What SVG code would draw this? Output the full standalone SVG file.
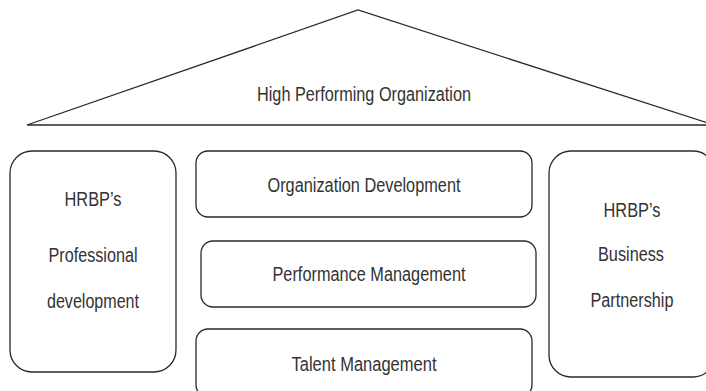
<svg xmlns="http://www.w3.org/2000/svg" width="706" height="391" viewBox="0 0 706 391">
<style>
.s{fill:#fff;stroke:#2a2a2a;stroke-width:1.3}
text{font-family:"Liberation Sans",Arial,sans-serif;font-size:19.5px;fill:#333;text-anchor:middle}
</style>
<rect width="706" height="391" fill="#fff"/>
<g id="roof">
<polygon class="s" points="27,125 358,10 714,125"/>
<text x="364" y="100.5" textLength="214" lengthAdjust="spacingAndGlyphs">High Performing Organization</text>
</g>
<g id="left-pillar">
<rect class="s" x="10" y="151" width="166" height="221" rx="22"/>
<text x="93" y="206" textLength="57" lengthAdjust="spacingAndGlyphs">HRBP’s</text>
<text x="93" y="262" textLength="89" lengthAdjust="spacingAndGlyphs">Professional</text>
<text x="93" y="308" textLength="92" lengthAdjust="spacingAndGlyphs">development</text>
</g>
<g id="org-dev">
<rect class="s" x="196" y="151" width="336" height="66" rx="12"/>
<text x="364" y="192" textLength="193" lengthAdjust="spacingAndGlyphs">Organization Development</text>
</g>
<g id="perf-mgmt">
<rect class="s" x="201" y="241" width="335" height="66" rx="12"/>
<text x="369" y="281" textLength="193" lengthAdjust="spacingAndGlyphs">Performance Management</text>
</g>
<g id="talent-mgmt">
<rect class="s" x="196" y="329" width="336" height="68" rx="12"/>
<text x="364" y="371" textLength="145" lengthAdjust="spacingAndGlyphs">Talent Management</text>
</g>
<g id="right-pillar">
<rect class="s" x="549" y="151" width="166" height="226" rx="22"/>
<text x="632" y="217" textLength="57" lengthAdjust="spacingAndGlyphs">HRBP’s</text>
<text x="631" y="261" textLength="66" lengthAdjust="spacingAndGlyphs">Business</text>
<text x="632" y="307" textLength="83" lengthAdjust="spacingAndGlyphs">Partnership</text>
</g>
<g id="connectors"></g>
</svg>
